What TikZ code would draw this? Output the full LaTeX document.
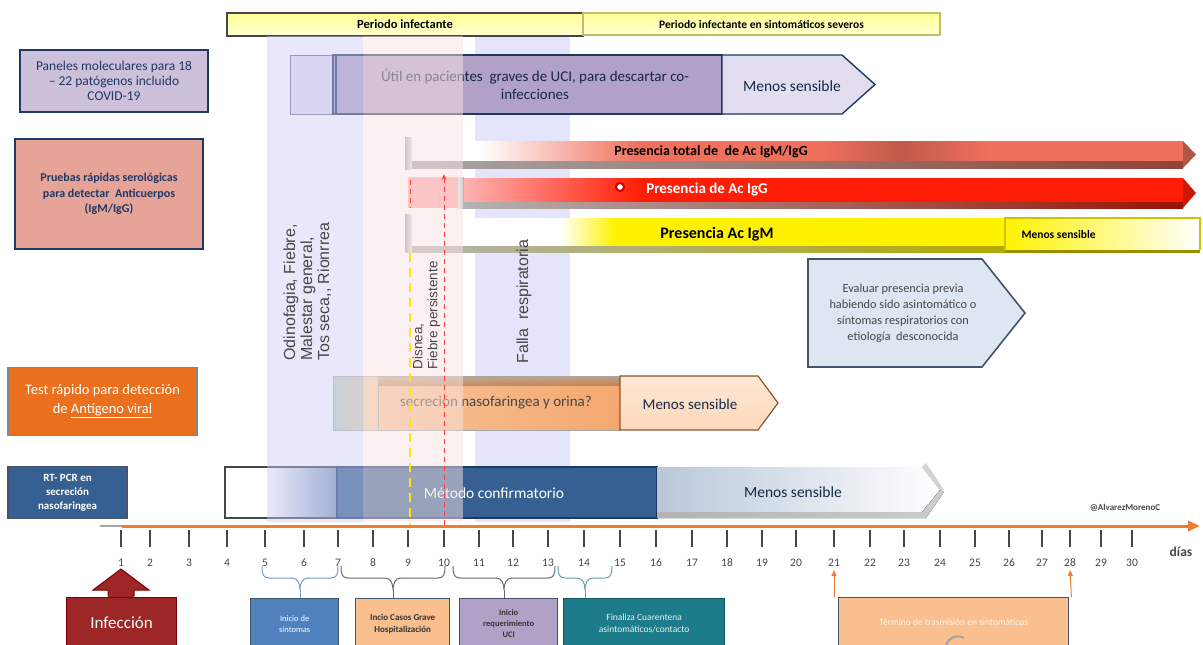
\documentclass[tikz,border=0pt]{standalone}
\usepackage{fontspec}
\setmainfont{Carlito}
\newfontfamily\arialf{Liberation Sans}
\usetikzlibrary{arrows.meta,calc}
\definecolor{navy}{RGB}{31,56,100}
\definecolor{lavbox}{RGB}{204,192,218}
\definecolor{purplebar}{RGB}{178,161,199}
\definecolor{lightlav}{RGB}{226,222,240}
\definecolor{bandlav}{RGB}{205,205,245}
\definecolor{bandpink}{RGB}{250,228,228}
\definecolor{bandlav2}{RGB}{228,228,250}
\definecolor{salmonbox}{RGB}{230,163,152}
\definecolor{salmonbar}{RGB}{240,112,92}
\definecolor{redbar}{RGB}{255,30,5}
\definecolor{yellowbar}{RGB}{255,242,0}
\definecolor{orangebox}{RGB}{234,112,30}
\definecolor{orangebar}{RGB}{244,168,110}
\definecolor{peach}{RGB}{252,216,186}
\definecolor{rtblue}{RGB}{54,96,146}
\definecolor{iniblue}{RGB}{79,129,189}
\definecolor{ucilav}{RGB}{178,161,199}
\definecolor{tealbox}{RGB}{28,124,138}
\definecolor{axisorange}{RGB}{237,125,49}
\definecolor{lyellow}{RGB}{255,255,212}
\definecolor{slate}{RGB}{68,84,106}
\definecolor{evalfill}{RGB}{222,230,242}
\definecolor{hosporange}{RGB}{250,191,143}
\definecolor{darkgrey}{RGB}{70,70,70}
\tikzset{
  lbox/.style={draw=navy, line width=1.6pt, align=center, inner sep=2pt},
  perbar/.style={draw=darkgrey, line width=1.2pt, top color=lyellow!70!yellow, bottom color=lyellow, align=center, inner sep=0pt},
  botbox/.style={draw=slate, line width=1.4pt, align=center, inner sep=1pt, anchor=north west},
  brk/.style={draw=darkgrey!80, line width=1pt},
  tickline/.style={draw=darkgrey, line width=1.2pt},
  ticklbl/.style={font=\fontsize{11.5}{12}\selectfont, text=darkgrey},
  rottxt/.style={rotate=90, anchor=north west, align=left, text=darkgrey},
}
% curly bracket: #1 style, #2 left end, #3 right end, #4 tip
\newcommand\mybrk[4]{%
  \draw[brk,#1] (#2) .. controls +(0,8) and +(-6,0) .. ($(#2)+(7,12)$)
    -- ($(#4)+(-8,-12)$) .. controls +(6,0) and +(0,-6) .. (#4)
    .. controls +(0,-6) and +(-6,0) .. ($(#4)+(8,-12)$)
    -- ($(#3)+(-7,12)$) .. controls +(6,0) and +(0,8) .. (#3);}
\begin{document}
\begin{tikzpicture}[x=1pt,y=-1pt]
\useasboundingbox[fill=white] (0,0) rectangle (1203,645);

% ---------- background band behind bars
\fill[bandlav2] (475,36) rectangle (570,522);

% ---------- top period bars
\node[perbar, minimum width=356, minimum height=23, font=\fontsize{12.5}{13}\bfseries] (pinf) at (405,24.5) {Periodo infectante};
\node[perbar, draw=yellow!45!gray, minimum width=357, minimum height=22, font=\fontsize{11.5}{12}\bfseries] (psev) at (761.5,24) {Periodo infectante en sintomáticos severos};

% ---------- left labels
\node[lbox, fill=lavbox, minimum width=188, minimum height=62, text=navy, font=\fontsize{13.5}{15}\selectfont] (mol) at (114,81) {Paneles moleculares para 18\\– 22 patógenos incluido\\COVID-19};
\node[lbox, fill=salmonbox, minimum width=188, minimum height=110, text=navy, font=\fontsize{12}{15.5}\bfseries] (sero) at (109,194) {Pruebas rápidas serológicas\\para detectar \ Anticuerpos\\(IgM/IgG)};
\node[lbox, draw=slate!70, line width=1.2pt, fill=orangebox, minimum width=189, minimum height=68, text=white, font=\fontsize{14.5}{19}\selectfont] (anti) at (102.5,401.5) {Test rápido para detección\\de \underline{Antígeno viral}};
\node[lbox, draw=slate, line width=1.2pt, fill=rtblue, minimum width=119, minimum height=52, text=white, font=\fontsize{11}{14}\bfseries] (rtpcr) at (67.5,492.5) {RT- PCR en\\secreción\\nasofaringea};

% ---------- molecular panels row
\node[draw=slate!80, line width=1.2pt, fill=lightlav, minimum width=43, minimum height=59, anchor=north west, inner sep=0pt] (molsmall) at (290,55) {};
\fill[purplebar] (333,55) rectangle (722,114);
\draw[navy, line width=1.4pt] (333,55) rectangle (722,114);
\draw[navy, line width=2.5pt] (336,55) -- (336,114);
\node[font=\fontsize{15}{18}\selectfont, text=navy!70!black, align=center] (moltxt) at (535,84) {Útil en pacientes \ graves de UCI, para descartar co-\\infecciones};
\draw[navy, line width=1.4pt, fill=lightlav] (722,55) -- (842,55) -- (875,84.5) -- (842,114) -- (722,114) -- cycle;
\node[font=\fontsize{15.5}{17}\selectfont, text=navy!70!black] (molmenos) at (792,86) {Menos sensible};

% ---------- serology bars
% bar 1
\fill[left color=gray!70, right color=gray!15] (405,137) rectangle (412,169);
\fill[white] (412,141) rectangle (480,161);
\fill[left color=white, right color=salmonbar] (480,141) rectangle (640,161);
\fill[salmonbar] (640,141) rectangle (1183,161);
\fill[left color=salmonbar, right color=salmonbar!80!black] (820,141) rectangle (900,161);
\fill[left color=salmonbar!80!black, right color=salmonbar] (900,141) rectangle (990,161);
\fill[left color=gray!70, right color=salmonbar!60!black] (412,161) rectangle (1183,168);
\fill[salmonbar!75!black] (1183,141) -- (1196,154.5) -- (1183,168) -- cycle;
\node[font=\fontsize{14}{15}\bfseries] (totaltxt) at (711,152) {Presencia total de \ de Ac IgM/IgG};
% bar 2
\fill[red!35!white] (408,177) rectangle (462,208);
\fill[left color=gray!20, right color=gray!65] (458,177) rectangle (464,208);
\fill[left color=red!30!white, right color=redbar] (464,178) rectangle (640,202);
\fill[redbar] (640,178) rectangle (1183,202);
\fill[left color=gray!60, right color=redbar!60!black] (464,202) rectangle (1183,208);
\fill[redbar!80!black] (1183,178) -- (1196,193) -- (1183,208) -- cycle;
\node[circle, draw=red!80!black, fill=white, line width=2pt, inner sep=0pt, minimum size=8pt] (ocirc) at (620,187) {};
\node[font=\fontsize{15}{16}\bfseries, text=white] (igg) at (707,190) {Presencia de Ac IgG};
% bar 3
\fill[left color=gray!70, right color=gray!15] (405,214) rectangle (412,252);
\fill[white] (412,218) rectangle (560,246);
\fill[left color=white, right color=yellowbar] (560,218) rectangle (615,246);
\fill[yellowbar] (615,218) rectangle (1005,246);
\fill[left color=gray!60, right color=yellowbar!70!black] (412,246) rectangle (1005,252);
\node[font=\fontsize{16}{17}\bfseries] (igm) at (717,234) {Presencia Ac IgM};
\fill[left color=yellowbar, right color=white] (1005,218) rectangle (1200,250);
\draw[yellowbar!80!black, line width=1.2pt] (1005,250) -- (1005,218) -- (1200,218) -- (1200,250);
\fill[yellowbar!60!black] (1005,250) rectangle (1200,253);
\node[font=\fontsize{11.5}{12}\bfseries, anchor=west] (igmmenos) at (1018,235) {Menos sensible};

% evaluate pentagon
\draw[slate, line width=1.6pt, fill=evalfill] (808,259) -- (982,259) -- (1025,313) -- (982,367) -- (808,367) -- cycle;
\node[font=\fontsize{12.3}{16}\selectfont, text=darkgrey, align=center] (eval) at (903,313) {Evaluar presencia previa\\habiendo sido asintomático o\\síntomas respiratorios con\\etiología \ desconocida};

% ---------- antigen row
\node[draw=gray!60, line width=1pt, left color=green!25!gray!40, right color=orangebar!60, minimum width=45, minimum height=54, anchor=north west, inner sep=0pt] (antsmall) at (333,376) {};
\fill[left color=orangebar!70, right color=orangebar] (378,376) rectangle (620,430);
\fill[top color=white, bottom color=orangebar, opacity=0.3] (378,376) rectangle (620,386);
\draw[gray!70, line width=1pt] (378,376) rectangle (620,430);
\node[font=\fontsize{15}{17}\selectfont, text=darkgrey] (anttxt) at (496,403) {secreción nasofaringea y orina?};
\draw[brown!70!black, line width=1.2pt, top color=peach!60, bottom color=peach] (620,376) -- (758,376) -- (778,403) -- (758,430) -- (620,430) -- cycle;
\node[font=\fontsize{15}{17}\selectfont, text=navy!70!black] (antmenos) at (690,404) {Menos sensible};

% ---------- RT-PCR row
\fill[white] (225,467) rectangle (268,518);
\fill[left color=white, right color=rtblue!65] (268,467) rectangle (337,518);
\draw[darkgrey, line width=1.4pt] (225,467) rectangle (337,518);
\fill[rtblue] (337,467) rectangle (657,518);
\draw[navy, line width=1.2pt] (337,467) rectangle (657,518);
\node[font=\fontsize{15.5}{17}\selectfont, text=white] (rttxt) at (494,493) {Método confirmatorio};
\fill[left color=rtblue!35, right color=white] (657,467) -- (922,467) -- (940,490) -- (922,512) -- (657,512) -- cycle;
\fill[left color=gray!60, right color=gray!40] (657,512) -- (922,512) -- (940,490) -- (944,492) -- (926,518) -- (657,518) -- cycle;
\fill[gray!35] (922,467) -- (926,463) -- (944,490) -- (940,490) -- cycle;
\node[font=\fontsize{15.5}{17}\selectfont, text=navy!70!black] (rtmenos) at (793,492) {Menos sensible};

% ---------- overlay bands
\fill[bandlav, opacity=0.45] (267,36) rectangle (363,522);
\fill[bandpink, opacity=0.5] (363,36) rectangle (463,522);

% ---------- rotated symptom texts
\node[rottxt, font=\arialf\fontsize{16}{17}\selectfont] (sint) at (280,364) {Odinofagia, Fiebre,\\Malestar general,\\Tos seca,, Rionrrea};
\node[rottxt, font=\arialf\fontsize{13.5}{15}\selectfont] (disnea) at (409,373) {Disnea,\\Fiebre persistente};
\node[rottxt, font=\arialf\fontsize{16}{17}\selectfont] (falla) at (513,367) {Falla \ respiratoria};

% dashed lines
\coordinate (yd1) at (410,253);
\coordinate (yd2) at (410,525);
\coordinate (rd1) at (444,174);
\coordinate (rd2) at (444,525);
\coordinate (rs1) at (410,180);
\coordinate (rs2) at (410,208);
\draw[yellow!90!orange, line width=1.4pt, dash pattern=on 9pt off 6pt] (yd1) -- (yd2);
\draw[red!75, line width=1pt, dash pattern=on 5pt off 4pt, -{Stealth[length=6pt,width=5pt]}] (rd2) -- (rd1);
\draw[red!75, line width=1pt, dash pattern=on 5pt off 4pt] (rs1) -- (rs2);

% ---------- axis
\coordinate (ax0) at (100,526);
\coordinate (ax1) at (122,526);
\coordinate (ax2) at (1200,526);
\draw[gray!70, line width=2pt] (ax0) -- (ax1);
\draw[axisorange, line width=3pt, -{Triangle[length=12pt,width=10pt]}] (ax1) -- (ax2);
\foreach \d/\x in {1/121,2/150,3/189,4/227,5/265,6/304,7/338,8/373,9/408,10/444,11/479,12/513,13/548,14/584,15/620,16/656,17/692,18/727,19/762,20/796,21/834,22/870,23/904,24/940,25/975,26/1009,27/1042,28/1070,29/1101,30/1132}{
  \coordinate (t\d) at (\x,530);
  \draw[tickline] (t\d) -- ++(0,17);
  \node[ticklbl] (l\d) at (\x,563) {\d};
}
\node[font=\fontsize{13.5}{15}\bfseries, text=darkgrey] (dias) at (1181,552) {días};
\node[font=\fontsize{9}{10}\bfseries, text=darkgrey] (autor) at (1125,508) {@AlvarezMorenoC};

% ---------- bottom boxes
\node[draw=red!50!black, line width=1.2pt, fill=red!55!black!85, minimum width=110, minimum height=50, anchor=north west, text=white, font=\fontsize{17}{19}\selectfont] (inf) at (66,597) {Infección};
\fill[red!55!black!85] (108,597) -- (108,590) -- (93,590) -- (121,569) -- (149,590) -- (134,590) -- (134,597) -- cycle;
\draw[red!50!black, line width=1pt] (108,596) -- (108,590) -- (93,590) -- (121,569) -- (149,590) -- (134,590) -- (134,596);

\node[botbox, fill=iniblue, minimum width=88, minimum height=50, text=white, font=\fontsize{8.5}{11}\selectfont] (inicio) at (250,598) {Inicio de\\síntomas};
\node[botbox, fill=hosporange, minimum width=94, minimum height=50, text=black!80, font=\fontsize{9}{12}\bfseries] (hosp) at (355,598) {Incio Casos Grave\\Hospitalización};
\node[botbox, fill=ucilav, minimum width=98, minimum height=50, text=black!80, font=\fontsize{8.5}{11}\bfseries] (uci) at (459,598) {Inicio\\requerimiento\\UCI};
\node[botbox, draw=tealbox!70!black, fill=tealbox, minimum width=161, minimum height=50, text=white!90!tealbox, font=\fontsize{9.5}{12}\selectfont] (cuar) at (563,598) {Finaliza Cuarentena\\asintomáticos/contacto};
\node[botbox, fill=hosporange, minimum width=230, minimum height=50, text=white!85!hosporange, font=\fontsize{9.5}{11}\selectfont] (term) at (838,597) {Término de trasmisión en sintomáticos};
\draw[gray!70, line width=2pt] ([xshift=-8pt]term.south) arc[start angle=180, end angle=60, radius=12pt];

% braces
\coordinate (b5) at (262,566);
\coordinate (b7) at (338,566);
\coordinate (b7b) at (341,566);
\coordinate (b10) at (445,566);
\coordinate (b10b) at (453,566);
\coordinate (b13) at (555,566);
\coordinate (b13b) at (558,566);
\coordinate (b15) at (612,566);
\coordinate (bt1) at (300,590);
\coordinate (bt2) at (393,590);
\coordinate (bt3) at (504,590);
\coordinate (bt4) at (585,590);
\mybrk{draw=iniblue!80}{b5}{b7}{bt1}
\mybrk{}{b7b}{b10}{bt2}
\mybrk{}{b10b}{b13}{bt3}
\mybrk{draw=tealbox!70}{b13b}{b15}{bt4}
\draw[brk, draw=iniblue!80] (bt1) -- (bt1 |- inicio.north);
\draw[brk] (bt2) -- (bt2 |- hosp.north);
\draw[brk] (bt3) -- (bt3 |- uci.north);
\draw[brk, draw=tealbox!70] (bt4) -- (bt4 |- cuar.north);

% orange small arrows to term box
\draw[axisorange, line width=1pt, -{Triangle[length=6pt,width=5pt]}] (term.north west) ++(-4,0) -- (t21 |- 0,570);
\draw[axisorange, line width=1pt, -{Triangle[length=6pt,width=5pt]}] (term.north east) ++(2,0) -- (t28 |- 0,570);
\end{tikzpicture}
\end{document}
